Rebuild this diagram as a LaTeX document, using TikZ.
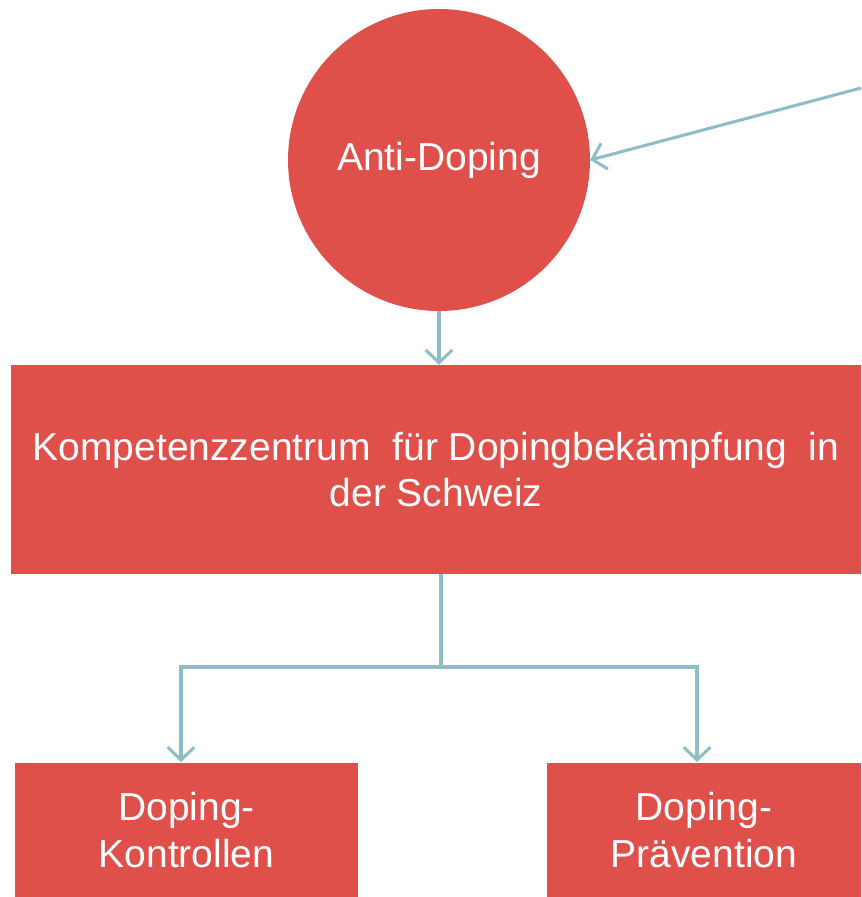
\documentclass[tikz,border=0pt]{standalone}
\usepackage{fontspec}
\setmainfont{Liberation Sans}
\usetikzlibrary{arrows.meta}
\definecolor{dopingred}{HTML}{E0504A}
\definecolor{linkblue}{HTML}{8CBDC9}
\tikzset{
  box/.style={fill=dopingred, text=white, inner sep=0pt, align=center,
    font=\fontsize{33.3pt}{40pt}\selectfont},
  link/.style={draw=linkblue, line width=2.6pt,
    -{Straight Barb[length=0.38cm,width=0.8cm,line width=2.6pt]}}
}
\begin{document}
\begin{tikzpicture}[x=0.03cm,y=-0.03cm]
  \useasboundingbox (0,0) rectangle (861,897);
  % top circle
  \node[box, circle, minimum size=9.06cm] (anti) at (439,160) {Anti-Doping};
  % centre block
  \node[box, minimum width=25.5cm, minimum height=6.27cm] (zentrum) at (436,469.5)
    {Kompetenzzentrum \ für Dopingbekämpfung \ in\\der Schweiz};
  % lower blocks
  \node[box, minimum width=10.29cm, minimum height=4.02cm] (kontrollen) at (186.5,830) {Doping-\\Kontrollen};
  \node[box, minimum width=9.42cm, minimum height=4.02cm] (praevention) at (704,830) {Doping-\\Prävention};
  % connectors
  \coordinate (incoming) at (861,88);
  \coordinate (split) at (441,667);
  \coordinate (leftdrop) at (181,762);
  \coordinate (rightdrop) at (697,762);
  \draw[link] (incoming) -- (anti.east);
  \draw[link] (anti.south) -- (anti.south |- zentrum.north);
  \draw[draw=linkblue, line width=2.6pt] (split |- zentrum.south) -- (split);
  \draw[link] (split) -| (leftdrop);
  \draw[link] (split) -| (rightdrop);
\end{tikzpicture}
\end{document}
